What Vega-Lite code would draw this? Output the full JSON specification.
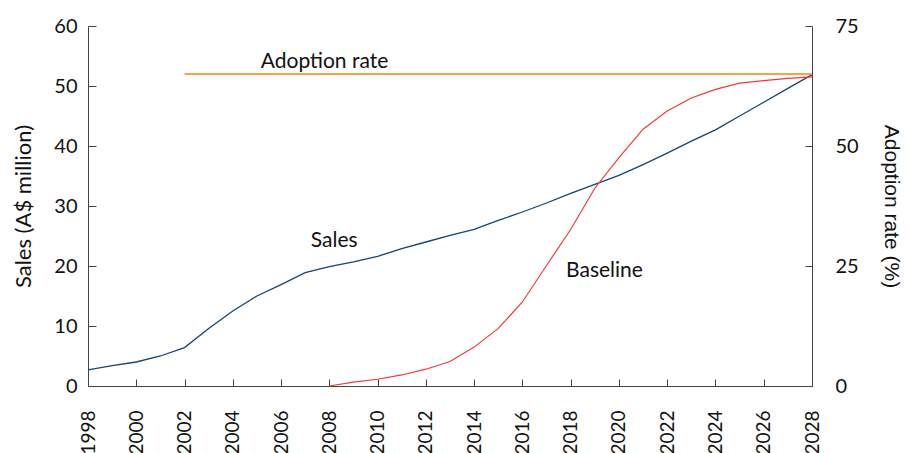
{
  "$schema": "https://vega.github.io/schema/vega-lite/v6.json",
  "width": 724,
  "height": 360,
  "autosize": "none",
  "padding": {"left": 88, "top": 26, "right": 97, "bottom": 67},
  "background": "white",
  "config": {
    "view": {"stroke": null},
    "font": "Lato",
    "axis": {
      "labelFont": "Lato", "titleFont": "Lato", "labelFontSize": 20, "titleFontSize": 22,
      "titleFontWeight": "normal", "labelColor": "#111", "titleColor": "#111",
      "domainColor": "#444", "tickColor": "#444", "grid": false
    }
  },
  "datasets": {
    "series": [
      {"year": 1998, "sales": 2.7, "baseline": null},
      {"year": 1999, "sales": 3.4, "baseline": null},
      {"year": 2000, "sales": 4.0, "baseline": null},
      {"year": 2001, "sales": 5.0, "baseline": null},
      {"year": 2002, "sales": 6.4, "baseline": null},
      {"year": 2003, "sales": 9.6, "baseline": null},
      {"year": 2004, "sales": 12.5, "baseline": null},
      {"year": 2005, "sales": 15.0, "baseline": null},
      {"year": 2006, "sales": 16.9, "baseline": null},
      {"year": 2007, "sales": 18.9, "baseline": null},
      {"year": 2008, "sales": 19.9, "baseline": 0.0},
      {"year": 2009, "sales": 20.7, "baseline": 0.8},
      {"year": 2010, "sales": 21.6, "baseline": 1.4},
      {"year": 2011, "sales": 22.9, "baseline": 2.3},
      {"year": 2012, "sales": 24.0, "baseline": 3.5},
      {"year": 2013, "sales": 25.1, "baseline": 5.1},
      {"year": 2014, "sales": 26.1, "baseline": 8.1},
      {"year": 2015, "sales": 27.6, "baseline": 12.0},
      {"year": 2016, "sales": 29.0, "baseline": 17.5},
      {"year": 2017, "sales": 30.5, "baseline": 25.1},
      {"year": 2018, "sales": 32.1, "baseline": 32.6},
      {"year": 2019, "sales": 33.6, "baseline": 41.2},
      {"year": 2020, "sales": 35.1, "baseline": 47.6},
      {"year": 2021, "sales": 36.9, "baseline": 53.5},
      {"year": 2022, "sales": 38.8, "baseline": 57.3},
      {"year": 2023, "sales": 40.8, "baseline": 60.0},
      {"year": 2024, "sales": 42.7, "baseline": 61.8},
      {"year": 2025, "sales": 45.0, "baseline": 63.1},
      {"year": 2026, "sales": 47.3, "baseline": 63.6},
      {"year": 2027, "sales": 49.6, "baseline": 64.1},
      {"year": 2028, "sales": 51.9, "baseline": 64.4}
    ],
    "adoption": [
      {"year": 2002, "rate": 65},
      {"year": 2028, "rate": 65}
    ],
    "labels": [
      {"label": "Adoption rate", "year": 2007.8, "value": 54.0},
      {"label": "Sales", "year": 2008.2, "value": 24.2},
      {"label": "Baseline", "year": 2019.4, "value": 19.2}
    ]
  },
  "resolve": {"scale": {"y": "independent"}, "axis": {"y": "independent"}},
  "layer": [
    {
      "layer": [
        {
          "data": {"name": "series"},
          "mark": {"type": "line", "color": "#17456e", "strokeWidth": 1.3},
          "encoding": {
            "x": {
              "field": "year", "type": "quantitative",
              "scale": {"domain": [1998, 2028], "nice": false, "zero": false},
              "axis": {
                "title": null, "values": [1998,1999,2000,2001,2002,2003,2004,2005,2006,2007,2008,2009,2010,2011,2012,2013,2014,2015,2016,2017,2018,2019,2020,2021,2022,2023,2024,2025,2026,2027,2028],
                "labelExpr": "datum.value % 2 == 0 ? format(datum.value, 'd') : ''",
                "labelAngle": -90, "tickSize": -7, "labelPadding": 31, "labelFontSize": 19,
                "labelFlush": false, "labelOverlap": false
              }
            },
            "y": {
              "field": "sales", "type": "quantitative",
              "scale": {"domain": [0, 60], "nice": false},
              "axis": {
                "title": "Sales (A$ million)", "orient": "left", "values": [0,10,20,30,40,50,60],
                "tickSize": -8, "labelPadding": 19, "titlePadding": 18
              }
            }
          }
        },
        {
          "data": {"name": "labels"},
          "mark": {"type": "text", "font": "Lato", "fontSize": 21, "color": "#111", "align": "center", "baseline": "middle"},
          "encoding": {
            "x": {"field": "year", "type": "quantitative"},
            "y": {"field": "value", "type": "quantitative"},
            "text": {"field": "label"}
          }
        }
      ]
    },
    {
      "layer": [
        {
          "data": {"name": "series"},
          "transform": [{"filter": "datum.baseline != null"}],
          "mark": {"type": "line", "color": "#f03a3e", "strokeWidth": 1.2},
          "encoding": {
            "x": {"field": "year", "type": "quantitative"},
            "y": {
              "field": "baseline", "type": "quantitative",
              "scale": {"domain": [0, 75], "nice": false},
              "axis": {
                "title": "Adoption rate (%)", "orient": "right", "values": [0,25,50,75],
                "tickSize": -7, "labelPadding": 30, "titlePadding": 22,
                "titleFont": "Liberation Sans", "titleFontSize": 21
              }
            }
          }
        },
        {
          "data": {"name": "adoption"},
          "mark": {"type": "line", "color": "#f5a550", "strokeWidth": 1.8},
          "encoding": {
            "x": {"field": "year", "type": "quantitative"},
            "y": {"field": "rate", "type": "quantitative"}
          }
        }
      ]
    }
  ]
}
